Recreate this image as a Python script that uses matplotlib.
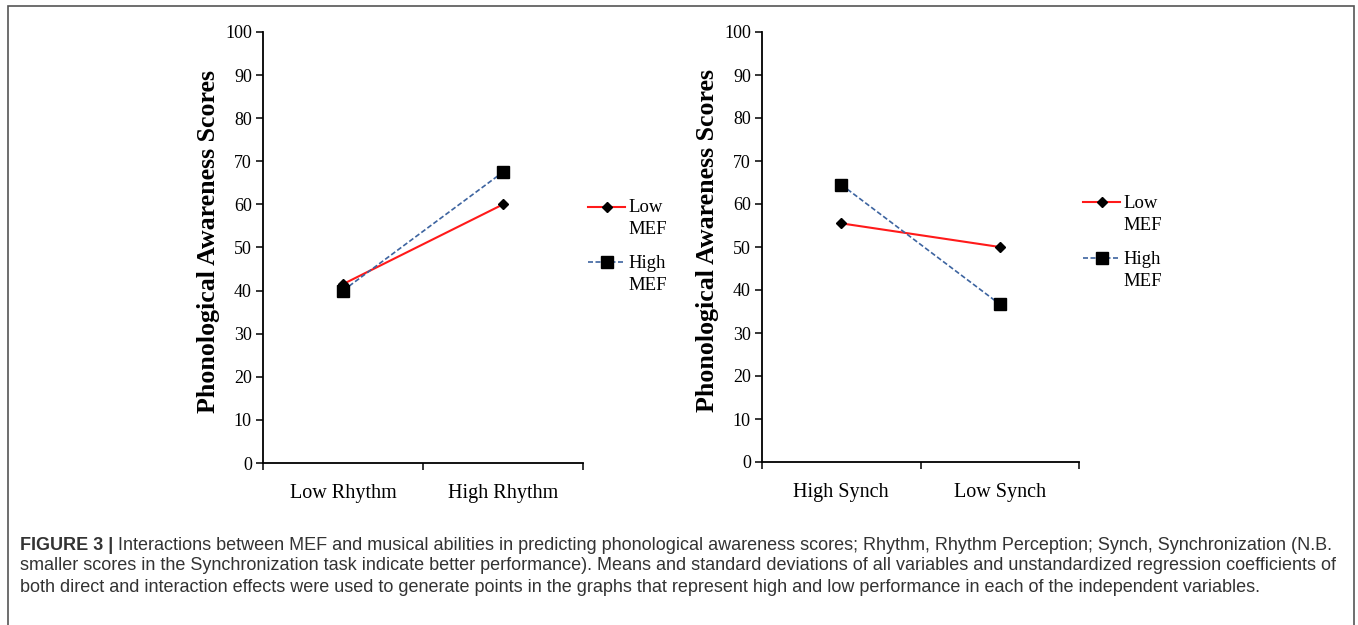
import matplotlib
matplotlib.use("Agg")
import matplotlib.pyplot as plt
from matplotlib.lines import Line2D
from matplotlib.patches import Rectangle

# data
rhythm_cats = ["Low Rhythm", "High Rhythm"]
rhythm_low_mef = [41.5, 60.0]
rhythm_high_mef = [40.0, 67.5]

synch_cats = ["High Synch", "Low Synch"]
synch_low_mef = [55.5, 50.0]
synch_high_mef = [64.5, 36.7]

y_ticks = [0, 10, 20, 30, 40, 50, 60, 70, 80, 90, 100]
legend_labels = [("Low", "MEF"), ("High", "MEF")]
ylabel = "Phonological Awareness Scores"

caption_bold = "FIGURE 3 | "
caption_lines = [
    "Interactions between MEF and musical abilities in predicting phonological awareness scores; Rhythm, Rhythm Perception; Synch, Synchronization (N.B.",
    "smaller scores in the Synchronization task indicate better performance). Means and standard deviations of all variables and unstandardized regression coefficients of",
    "both direct and interaction effects were used to generate points in the graphs that represent high and low performance in each of the independent variables.",
]

serif = "Liberation Serif"
sans = ["Liberation Sans", "DejaVu Sans"]

W, H = 1358, 625
fig = plt.figure(figsize=(W / 100, H / 100), dpi=100)

# thin frame round the figure (open at the bottom)
fig.add_artist(Rectangle((8 / W, -0.1), (1354 - 8) / W, 1.1 - 6 / H, transform=fig.transFigure,
                         fill=False, edgecolor="#555555", linewidth=1.2))

RED = "#ff1a1a"
BLUE = "#3d64a0"


def panel(rect, cats, low, high, leg_x, leg_y):
    ax = fig.add_axes(rect)
    x = range(len(cats))
    ax.plot(x, low, color=RED, lw=1.5, marker="D", ms=5.5, mfc="black", mec="black", zorder=3)
    ax.plot(x, high, color=BLUE, lw=1.2, ls=(0, (3, 1.5)), marker="s", ms=8,
            mfc="black", mec="black", zorder=3)
    ax.set_xlim(-0.5, len(cats) - 0.5)
    ax.set_ylim(0, 100)
    ax.set_yticks(y_ticks)
    ax.set_yticklabels([str(v) for v in y_ticks], fontfamily=serif, fontsize=13)
    ax.set_xticks([i - 0.5 for i in range(len(cats) + 1)])
    ax.set_xticklabels([])
    for i, c in enumerate(cats):
        ax.text(i, -0.07, c, transform=ax.get_xaxis_transform(), ha="center", va="center",
                fontfamily=serif, fontsize=14.5)
    ax.tick_params(axis="both", direction="out", length=5, width=1.1, color="black", pad=3)
    for s in ["top", "right"]:
        ax.spines[s].set_visible(False)
    for s in ["left", "bottom"]:
        ax.spines[s].set_linewidth(1.3)
    ax.set_ylabel(ylabel, fontfamily=serif, fontweight="bold", fontsize=18.6)
    ax.yaxis.set_label_coords(-0.135, 0.515)

    # legend, handle beside the first line of each label
    styles = [dict(color=RED, lw=1.5, ls="-", marker="D", ms=5.5),
              dict(color=BLUE, lw=1.2, ls=(0, (3, 1.5)), marker="s", ms=8)]
    for (top, bot), st, yy in zip(legend_labels, styles, leg_y):
        fig.add_artist(Line2D([leg_x / W, (leg_x + 37) / W], [1 - yy / H] * 2, color=st["color"],
                              lw=st["lw"], ls=st["ls"], transform=fig.transFigure))
        fig.add_artist(Line2D([(leg_x + 19) / W], [1 - yy / H], marker=st["marker"], ms=st["ms"],
                              mfc="black", mec="black", ls="none", transform=fig.transFigure))
        fig.text((leg_x + 40) / W, 1 - (yy + 1) / H, top, fontfamily=serif, fontsize=13.5, va="center")
        fig.text((leg_x + 40) / W, 1 - (yy + 23) / H, bot, fontfamily=serif, fontsize=13.5, va="center")
    return ax


panel([263 / W, 1 - 463 / H, 320 / W, 431 / H], rhythm_cats, rhythm_low_mef, rhythm_high_mef,
      588, [207, 262])
panel([762 / W, 1 - 462 / H, 317 / W, 430 / H], synch_cats, synch_low_mef, synch_high_mef,
      1083, [202, 258])

# caption
fig.canvas.draw()
r = fig.canvas.get_renderer()
cap_col = "#333333"
line_y = [546, 566, 587]
tb = fig.text(20 / W, 1 - line_y[0] / H, caption_bold, fontfamily=sans, fontweight="bold",
              fontsize=13, color=cap_col, va="center")
bw = tb.get_window_extent(renderer=r).width
fig.text((20 + bw) / W, 1 - line_y[0] / H, caption_lines[0], fontfamily=sans, fontsize=13,
         color=cap_col, va="center")
for txt, yy in zip(caption_lines[1:], line_y[1:]):
    fig.text(20 / W, 1 - yy / H, txt, fontfamily=sans, fontsize=13, color=cap_col, va="center")

fig.savefig("out.png", dpi=100)
